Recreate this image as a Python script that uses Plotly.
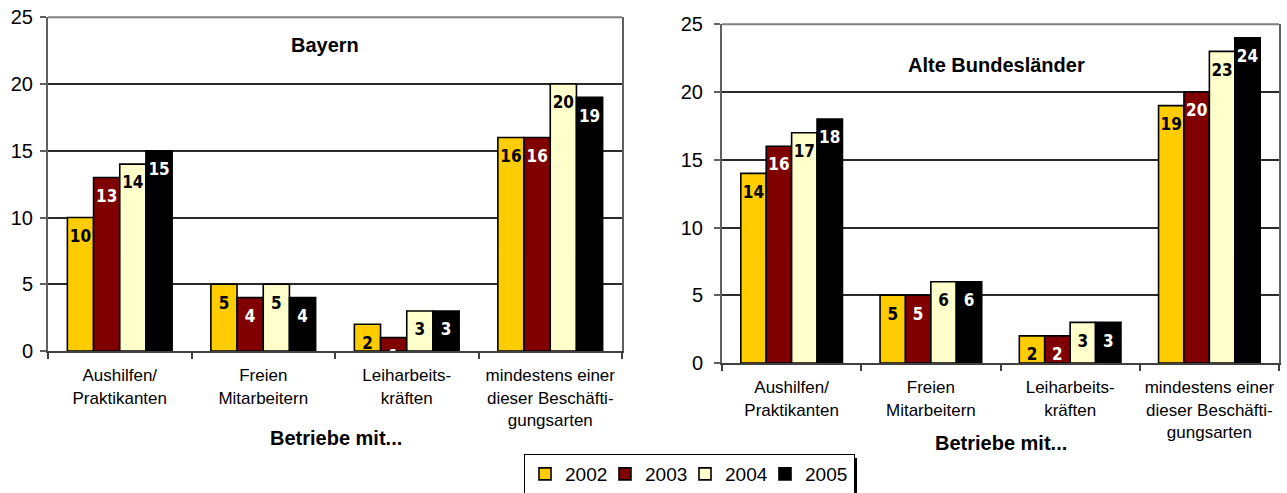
import plotly.graph_objects as go

# Categories and series
categories = ["Aushilfen/<br>Praktikanten", "Freien<br>Mitarbeitern",
              "Leiharbeits-<br>kräften", "mindestens einer<br>dieser Beschäfti-<br>gungsarten"]
years = ["2002", "2003", "2004", "2005"]

bayern_2002 = [10, 5, 2, 16]
bayern_2003 = [13, 4, 1, 16]
bayern_2004 = [14, 5, 3, 20]
bayern_2005 = [15, 4, 3, 19]

alte_2002 = [14, 5, 2, 19]
alte_2003 = [16, 5, 2, 20]
alte_2004 = [17, 6, 3, 23]
alte_2005 = [18, 6, 3, 24]

bar_colors = ["#FFCC00", "#800000", "#FFFFCC", "#000000"]
label_colors = ["#000000", "#FFFFFF", "#000000", "#FFFFFF"]

W, H = 1287, 493
BARGAP = 0.27
YMAX = 25
FONT = "Liberation Sans, Arial, sans-serif"
LABEL_FONT = "DejaVu Sans Condensed, Liberation Sans, Arial, sans-serif"

pos = list(range(len(categories)))
bounds = [p - 0.5 for p in pos] + [pos[-1] + 0.5]

panels = [
    ("x", "y", [48 / W, 622 / W], [(H - 351) / H, (H - 17.3) / H],
     [bayern_2002, bayern_2003, bayern_2004, bayern_2005], 3),
    ("x2", "y2", [722 / W, 1279 / W], [(H - 363) / H, (H - 24.3) / H],
     [alte_2002, alte_2003, alte_2004, alte_2005], 7),
]

fig = go.Figure()
n = len(years)
bar_w = (1 - BARGAP) / n
LABEL_DROP_PX = 20  # value labels sit this far below the top of their bar

for p, (xa, ya, xdom, ydom, series, _) in enumerate(panels):
    units_per_px = YMAX / ((ydom[1] - ydom[0]) * H)
    for i, (year, vals) in enumerate(zip(years, series)):
        fig.add_trace(go.Bar(
            x=pos, y=vals, name=year,
            xaxis=xa, yaxis=ya,
            marker=dict(color=bar_colors[i], line=dict(color="#000000", width=1.6)),
            showlegend=(p == 0),
            legendwidth=35 if i < n - 1 else 44,
            hoverinfo="skip",
        ))
    for i, vals in enumerate(series):
        off = -(1 - BARGAP) / 2 + bar_w * (i + 0.5)
        fig.add_trace(go.Scatter(
            x=[k + off for k in pos],
            y=[v - LABEL_DROP_PX * units_per_px for v in vals],
            text=[f"<b>{v}</b>" for v in vals],
            mode="text", textposition="middle center", cliponaxis=True,
            textfont=dict(family=LABEL_FONT, size=17, color=label_colors[i]),
            xaxis=xa, yaxis=ya, showlegend=False, hoverinfo="skip",
        ))

# panel titles and axis titles
def note(text, xref, x, y):
    return dict(text=f"<b>{text}</b>", xref=xref, yref="paper", x=x, y=y,
                xanchor="center", yanchor="middle", showarrow=False,
                font=dict(family=FONT, size=20, color="#000"))

annotations = [
    note("Bayern", "x domain", 0.482, (H - 45) / H),
    note("Alte Bundesländer", "x2 domain", 0.492, (H - 65) / H),
    note("Betriebe mit...", "x domain", 0.502, (H - 438) / H),
    note("Betriebe mit...", "x2 domain", 0.501, (H - 443) / H),
]

def xaxis(domain, anchor):
    return dict(domain=domain, anchor=anchor, range=[bounds[0], bounds[-1]],
                tickmode="array", tickvals=pos, ticktext=categories, ticks="",
                minor=dict(tickmode="array", tickvals=bounds, ticks="outside", ticklen=6,
                           tickcolor="#404040", tickwidth=1.5, showgrid=False),
                showline=True, linecolor="#404040", linewidth=2,
                ticklabelstandoff=8,
                tickfont=dict(family=FONT, size=17, color="#000"),
                showgrid=False, zeroline=False, fixedrange=True)

def yaxis(domain, anchor, standoff):
    return dict(domain=domain, anchor=anchor, range=[0, YMAX], dtick=5,
                showline=True, linecolor="#606060", linewidth=2, mirror=True,
                ticks="outside", ticklen=6, tickcolor="#606060", tickwidth=1.5,
                ticklabelstandoff=standoff,
                tickfont=dict(family=FONT, size=20, color="#000"),
                showgrid=True, gridcolor="#2a2a2a", gridwidth=1.5,
                zeroline=False, fixedrange=True)

LEG_L, LEG_T = 524, 454
LEG_W = 329
fig.update_layout(
    width=W, height=H,
    margin=dict(l=0, r=0, t=0, b=0, autoexpand=False),
    paper_bgcolor="white", plot_bgcolor="white",
    barmode="group", bargap=BARGAP, bargroupgap=0,
    xaxis=xaxis(panels[0][2], "y"),
    yaxis=yaxis(panels[0][3], "x", panels[0][5]),
    xaxis2=xaxis(panels[1][2], "y2"),
    yaxis2=yaxis(panels[1][3], "x2", panels[1][5]),
    annotations=annotations,
    legend=dict(orientation="h", x=LEG_L / W, xanchor="left", y=(H - LEG_T) / H, yanchor="top",
                bordercolor="#000000", borderwidth=1, bgcolor="white",
                font=dict(family=FONT, size=19, color="#000"), itemwidth=30,
                traceorder="normal"),
    shapes=[
        # lighter frame line across the top of each plot area
        dict(type="line", xref="x domain", yref="y domain", x0=0, x1=1, y0=1, y1=1,
             line=dict(color="#808080", width=2)),
        dict(type="line", xref="x2 domain", yref="y2 domain", x0=0, x1=1, y0=1, y1=1,
             line=dict(color="#808080", width=2)),
        # drop shadow on the right edge of the legend box
        dict(type="rect", xref="paper", yref="paper", layer="below",
             x0=(LEG_L + LEG_W) / W, x1=(LEG_L + LEG_W + 4) / W, y0=0, y1=(H - LEG_T - 4) / H,
             line=dict(width=0), fillcolor="#000000"),
    ],
)

fig.write_html("out.html")
